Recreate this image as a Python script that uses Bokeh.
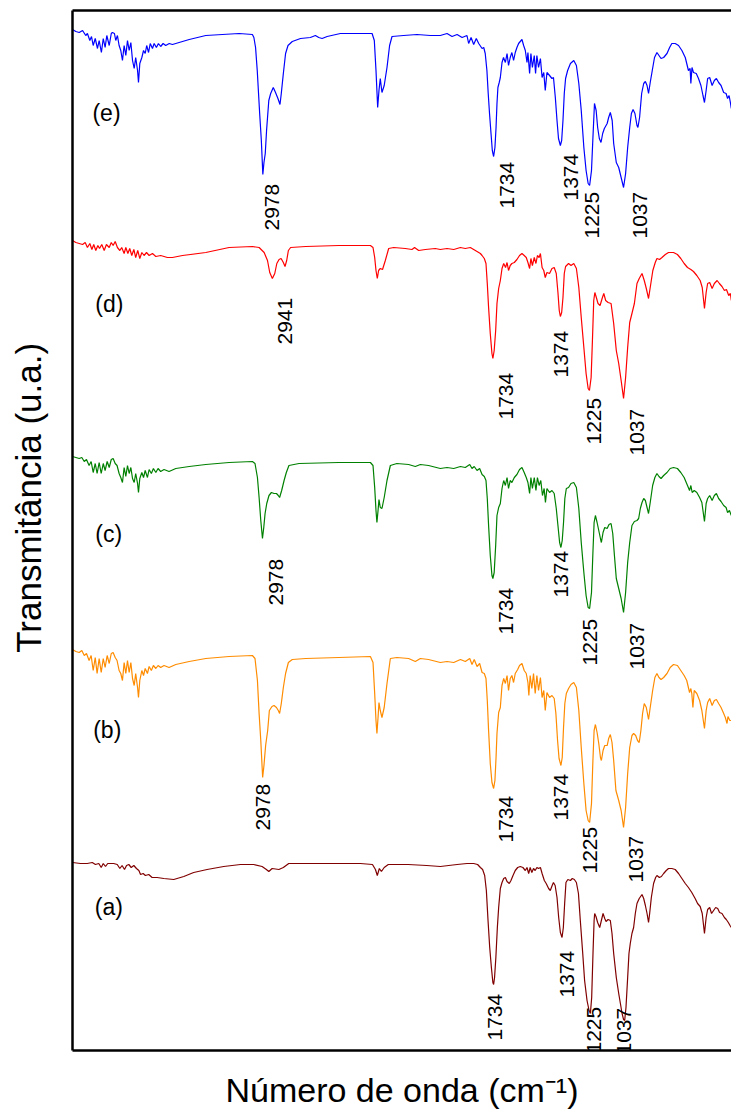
import math
from bokeh.plotting import figure
from bokeh.layouts import row
from bokeh.models import Range1d, LinearAxis, FixedTicker, ColumnDataSource
from bokeh.core.properties import value
from bokeh.embed import file_html
from bokeh.resources import INLINE

# ---------------- data (wavenumber in cm-1, transmittance in arbitrary stacked units) -------------
wn_e = [4000,3982,3964,3946,3929,3920,3907,3898,3889,3878,3866,3857,3845,3835,3825,3816,3803,3792,3786,3775,
        3768,3759,3750,3741,3732,3723,3714,3705,3696,3687,3678,3669,3661,3651,3646,3639,3628,3619,3610,3602,
        3592,3583,3571,3562,3550,3539,3527,3514,3500,3481,3464,3428,3374,3285,3196,3106,3035,
        3027,3018,3009,2996,2987,2979,2973,2966,2959,2947,2937,2923,2911,2898,2887,2880,2869,2857,2844,2821,
        2777,2724,2697,2679,2661,2634,2563,2438,2393,2381,2372,2363,2356,2349,2340,2328,2313,2299,2286,2224,
        2152,2081,
        2027,1991,1964,1937,1910,1884,1875,1862,1848,1834,1821,1803,1794,1786,1777,1770,1763,1755,1748,1741,
        1734,1728,1723,1718,1711,1705,1696,1688,1678,1669,1661,1652,1643,1634,1625,1616,1607,1598,1589,1580,
        1571,1562,1557,1548,1541,1533,1523,1516,1509,1500,1490,1481,1472,1464,1455,1441,1428,1420,1410,1401,
        1393,1383,1376,1369,1362,1355,1344,1329,1311,1297,1284,1271,1257,1245,1234,1226,1216,1209,1200,1191,
        1183,1174,1165,1156,1147,1132,1124,1115,1105,1097,1083,1070,1057,1044,1033,1022,1011,1002,993,983,
        972,967,958,947,936,927,918,910,901,890,878,865,854,843,829,811,797,785,767,749,
        731,713,696,687,683,677,669,654,642,629,618,610,601,593,582,569,557,546,534,521,
        507,494,486,478,471,466]
t_e = [1021,1019,1018,1020,1015,1017,1010,1014,1005,1012,1002,1010,998,1012,1003,1015,1005,1017,1018,1017,
       1010,1015,1005,1000,990,1005,995,1010,1000,1008,990,982,993,980,968,987,993,1000,997,1005,
       998,1007,1002,1007,1003,1007,1004,1007,1005,1007,1006,1008,1011,1015,1016,1017,1016,
       1013,1003,980,937,910,876,888,897,920,950,957,963,958,952,946,957,977,997,1005,1009,
       1012,1013,1015,1013,1012,1014,1017,1017,1017,1010,980,943,960,972,958,965,983,1005,1014,1015,
       1016,1015,
       1015,1017,1014,1016,1013,1015,1007,1013,1006,1012,1007,1002,1003,997,980,957,937,917,900,894,
       903,923,947,963,968,973,988,993,988,997,985,993,998,990,998,1003,1007,1009,1011,1005,
       1000,988,998,977,997,983,995,977,995,983,992,973,978,960,978,975,972,973,953,930,
       912,905,910,930,957,972,980,987,990,985,967,940,903,880,867,865,880,910,947,940,
       923,912,908,917,922,927,933,938,930,907,888,883,873,863,877,903,923,937,941,937,
       925,923,933,957,967,969,965,957,968,980,993,998,995,992,993,997,1003,1007,1007,1005,
       1000,993,980,982,967,983,978,977,972,965,955,948,960,972,973,965,970,972,968,965,
       958,957,952,955,948,942]

wn_d = [4000,3982,3964,3946,3932,3920,3907,3896,3886,3875,3864,3855,3843,3830,3818,3803,3792,3782,3771,3759,
        3746,3736,3723,3714,3703,3693,3682,3671,3661,3650,3639,3628,3616,3603,3589,3571,3553,3527,3491,3464,
        3410,3285,3160,3035,2999,2972,2954,2942,2928,2915,2904,2892,2881,2869,2860,2851,2842,2830,2749,2571,
        2402,2388,2379,2372,2365,2358,2349,2337,2322,2304,2277,2215,2179,2165,2143,2107,2054,
        2027,1991,1955,1919,1893,1866,1848,1830,1812,1803,1791,1782,1775,1768,1759,1750,1745,1738,1730,1723,
        1714,1705,1696,1687,1677,1669,1661,1652,1643,1630,1616,1602,1589,1577,1566,1557,1548,1541,1533,1523,
        1514,1506,1497,1490,1481,1472,1464,1455,1441,1428,1416,1405,1396,1389,1383,1376,1369,1362,1355,1339,
        1326,1311,1297,1284,1271,1257,1245,1234,1227,1218,1211,1204,1198,1190,1181,1170,1159,1150,1140,1127,
        1111,1097,1083,1070,1057,1044,1033,1022,1011,999,986,972,960,945,933,922,910,901,887,874,
        865,851,838,820,803,776,755,737,719,701,683,669,651,633,622,610,601,593,582,569,
        557,542,530,516,503,492,480,471,466]
t_d = [810,808,807,806,808,803,807,801,806,800,805,802,806,800,806,803,808,805,809,803,
       800,803,797,803,797,802,795,801,793,800,792,798,795,798,795,797,794,795,793,793,
       795,798,803,804,803,798,790,778,772,777,787,791,792,788,784,790,800,803,804,805,
       805,803,793,780,772,780,782,781,790,802,803,802,801,803,800,801,802,
       801,802,801,803,802,803,801,799,797,795,792,787,767,743,717,697,692,700,720,747,
       762,770,782,787,783,788,780,785,787,788,791,795,797,795,793,788,782,792,785,793,
       787,795,793,797,783,780,773,778,777,782,783,777,758,740,734,738,753,777,784,787,
       785,787,782,763,733,703,677,662,660,673,710,750,758,753,747,745,752,757,750,748,
       747,727,700,687,670,652,673,703,728,737,747,767,772,777,770,762,752,763,780,788,
       792,791,793,796,798,798,796,792,787,783,781,779,775,770,763,742,758,767,768,762,
       767,770,767,764,760,761,755,757,750]

wn_c = [4000,3982,3964,3950,3937,3925,3911,3900,3889,3878,3868,3857,3846,3835,3825,3814,3803,3792,3782,3771,
        3761,3750,3741,3732,3723,3714,3705,3696,3687,3678,3669,3661,3651,3646,3639,3628,3619,3610,3598,3589,
        3577,3566,3553,3541,3527,3509,3482,3446,3374,3285,3160,3035,3021,3008,2999,2990,2981,2974,2967,2958,
        2946,2933,2919,2906,2896,2889,2878,2865,2853,2839,2785,2571,2402,2388,2379,2372,2367,2361,2356,2349,
        2340,2328,2313,2295,2260,2197,2161,2134,2090,
        2027,1991,1955,1919,1893,1869,1857,1845,1830,1816,1803,1791,1782,1775,1768,1759,1750,1745,1738,1730,
        1723,1714,1705,1696,1687,1678,1669,1661,1652,1643,1630,1616,1602,1589,1577,1566,1557,1548,1541,1533,
        1523,1514,1506,1497,1488,1479,1470,1463,1455,1441,1428,1416,1405,1396,1387,1380,1373,1366,1359,1351,
        1339,1326,1311,1297,1284,1271,1257,1245,1234,1226,1216,1209,1202,1195,1186,1177,1168,1163,1154,1145,
        1132,1122,1111,1102,1093,1083,1070,1057,1044,1033,1022,1011,999,986,972,963,954,945,936,927,
        918,910,901,888,876,865,854,843,829,811,794,776,755,737,719,701,690,683,676,665,
        651,636,624,610,601,593,582,569,557,546,534,521,507,494,486,476,466]
t_c = [594,593,592,593,589,591,585,589,578,587,577,588,577,587,580,589,583,591,592,587,
       585,577,573,568,583,574,585,577,583,572,568,577,567,558,572,578,573,580,573,581,
       577,582,578,582,579,581,579,582,584,586,588,589,587,573,553,530,512,523,537,547,
       555,558,557,557,555,553,560,570,578,585,587,588,588,585,563,540,528,540,551,543,
       542,553,570,585,587,586,584,586,585,
       582,583,582,584,583,586,582,584,580,582,576,574,570,552,525,495,475,472,478,505,
       535,543,547,562,570,565,573,562,570,568,573,576,581,583,578,573,568,557,573,562,
       573,560,573,565,570,555,562,548,562,558,560,557,542,525,508,503,510,528,552,562,
       563,567,568,563,542,508,478,455,443,442,458,495,528,535,528,520,512,508,518,523,
       522,526,527,517,495,472,462,452,438,458,488,508,525,529,530,532,542,548,552,550,
       543,537,548,565,573,577,574,572,575,578,582,583,582,578,573,565,560,565,558,560,
       558,553,548,529,547,552,555,550,555,557,552,549,545,543,538,540,535]

wn_b = [4000,3982,3964,3950,3937,3925,3911,3900,3889,3878,3868,3857,3846,3835,3825,3814,3803,3792,3782,3771,
        3761,3750,3741,3732,3723,3714,3705,3696,3687,3678,3669,3661,3651,3646,3639,3628,3619,3610,3598,3589,
        3577,3566,3553,3541,3527,3509,3482,3446,3374,3285,3160,3035,3021,3008,2999,2990,2980,2973,2964,2953,
        2944,2930,2919,2906,2896,2889,2880,2869,2857,2842,2821,2749,2571,2402,2388,2379,2372,2367,2361,2356,
        2349,2340,2328,2313,2295,2260,2197,2161,2134,2090,
        2027,1991,1955,1919,1893,1869,1857,1845,1830,1816,1803,1791,1782,1775,1768,1759,1750,1741,1734,1728,
        1723,1714,1705,1696,1687,1678,1669,1661,1652,1643,1634,1625,1612,1602,1589,1577,1566,1557,1552,1545,
        1536,1527,1518,1509,1500,1490,1481,1472,1464,1455,1441,1428,1416,1407,1398,1390,1380,1373,1366,1359,
        1351,1339,1326,1311,1297,1284,1271,1257,1245,1234,1226,1216,1209,1202,1195,1186,1177,1168,1163,1154,
        1145,1132,1124,1115,1106,1097,1085,1070,1057,1044,1033,1022,1011,999,990,979,969,960,951,942,
        933,922,910,901,888,876,865,854,843,829,811,794,776,755,737,719,705,690,683,678,
        672,665,651,636,624,610,601,593,582,569,557,546,534,521,507,498,489,484,474,466]
t_b = [401,399,398,400,395,397,390,395,380,393,377,392,378,392,383,395,387,397,398,393,
       390,380,377,370,388,377,390,378,388,372,365,377,363,353,370,380,375,382,377,384,
       380,385,382,385,383,385,383,386,389,392,394,395,392,370,337,310,273,285,305,320,
       340,344,345,343,340,337,347,363,377,388,391,392,393,394,388,357,330,317,333,348,
       340,333,343,367,392,393,392,389,392,391,
       388,389,388,391,389,392,386,391,384,387,378,377,372,350,320,287,268,262,270,293,
       317,338,343,365,372,367,375,360,372,375,368,377,381,385,387,380,377,368,355,375,
       362,377,357,375,360,373,353,360,340,358,353,355,352,337,310,292,285,293,323,347,
       357,362,366,368,363,340,303,267,240,230,228,247,287,320,326,318,307,293,290,300,
       305,305,312,316,308,290,260,250,240,223,243,277,303,315,317,315,310,308,320,337,
       347,343,331,343,360,373,377,373,371,373,377,383,386,385,380,375,370,358,362,357,
       343,360,357,350,340,322,340,348,352,345,350,351,347,343,337,333,327,334,330,330]

wn_a = [4000,3957,3921,3894,3877,3859,3846,3835,3823,3811,3796,3779,3760,3746,3734,3721,3710,3698,3685,3671,
        3657,3644,3635,3621,3609,3591,3573,3546,3510,3457,3403,3350,3278,3189,3099,3028,2983,2960,2947,2929,
        2893,2869,2840,2724,2456,2391,2375,2365,2354,2343,2328,2306,2200,2100,2027,1937,1884,1848,1827,1812,
        1800,1789,1780,1771,1762,1753,1745,1741,1736,1729,1721,1714,1705,1696,1687,1678,1669,1657,1648,1637,
        1625,1612,1598,1584,1571,1562,1553,1545,1536,1527,1518,1509,1500,1490,1481,1469,1459,1446,1437,1427,
        1420,1411,1401,1392,1383,1374,1367,1360,1353,1343,1329,1319,1308,1297,1286,1276,1263,1253,1240,1229,
        1222,1215,1208,1202,1199,1192,1183,1172,1163,1154,1145,1138,1127,1115,1106,1097,1083,1070,1061,1052,
        1044,1038,1031,1022,1015,1008,999,990,981,972,960,945,936,927,918,910,904,895,883,872,
        865,852,841,829,815,803,785,767,749,731,713,696,678,660,647,633,622,610,601,593,
        582,572,561,550,539,529,516,503,493,482,473,466]
t_a = [188,187,187,188,186,187,183,187,184,187,187,187,186,182,185,181,185,186,183,185,
       182,180,176,177,175,176,173,173,172,171,174,178,181,184,186,186,184,181,179,182,
       181,183,187,187,187,186,181,175,182,179,183,186,186,185,184,186,187,187,186,183,
       181,175,160,130,103,83,68,66,73,93,123,143,162,168,172,173,169,167,170,175,
       180,183,184,183,180,183,177,183,178,182,180,183,182,183,177,170,167,162,160,165,
       168,165,153,133,118,113,123,147,168,171,170,172,171,168,157,130,97,70,50,40,
       37,53,97,130,137,134,128,123,130,137,132,129,131,130,117,97,73,57,47,37,
       31,30,43,73,97,107,117,123,137,147,152,156,152,145,137,128,137,153,167,173,
       175,173,174,177,180,182,182,181,177,172,167,163,158,152,147,144,137,117,133,141,
       143,137,140,143,142,138,137,133,131,128,125,123]

# series tags (a)-(e)
tag_text = ["(a)", "(b)", "(c)", "(d)", "(e)"]
tag_wn = [3880, 3889, 3878, 3878, 3893]
tag_t = [144, 321, 517, 747, 938]

# peak annotations (rotated), anchored at the start of the text
peak_text = ["2978", "1734", "1374", "1225", "1037",
             "2941", "1734", "1374", "1225", "1037",
             "2978", "1734", "1374", "1225", "1037",
             "2978", "1734", "1374", "1225", "1037",
             "1734", "1374", "1225", "1037"]
peak_wn = [2931, 1667, 1324, 1214, 954,
           2859, 1673, 1378, 1203, 973,
           2907, 1672, 1378, 1222, 974,
           2980, 1672, 1378, 1222, 976,
           1732, 1348, 1201, 1040]
peak_t = [820, 842, 850, 812, 812,
          706, 631, 673, 606, 595,
          445, 416, 453, 385, 381,
          220, 208, 230, 177, 168,
          10, 53, -3, -4]

x_title = "Número de onda (cm\u207b\u00b9)"
y_title = "Transmitância (u.a.)"

series = [
    (wn_a, t_a, "#800000"),
    (wn_b, t_b, "#FF8C00"),
    (wn_c, t_c, "#008000"),
    (wn_d, t_d, "#FF0000"),
    (wn_e, t_e, "#0000FF"),
]

FONT = "Liberation Sans"

# ---- narrow side panel carrying the y-axis title ----
side = figure(width=69, height=1114, x_range=Range1d(0, 69), y_range=Range1d(0, 1114),
              output_backend="svg", toolbar_location=None, x_axis_type=None, y_axis_type=None,
              min_border=0)
side.outline_line_color = None
side.xgrid.visible = False
side.ygrid.visible = False
side.text(x=[28], y=[592], text=[y_title], angle=math.pi / 2, text_align="center",
          text_baseline="middle", text_font=value(FONT), text_font_size="35px", text_color="black")

# ---- main spectra plot ----
p = figure(width=662, height=1114, x_range=Range1d(4000, 465), y_range=Range1d(0, 1040),
           output_backend="svg", toolbar_location=None,
           min_border_left=3, min_border_right=0, min_border_top=10, min_border_bottom=64)
p.outline_line_color = None
p.xgrid.visible = False
p.ygrid.visible = False
p.background_fill_color = "white"
p.border_fill_color = "white"

for ax in (p.xaxis[0], p.yaxis[0]):
    ax.ticker = FixedTicker(ticks=[])
    ax.axis_line_width = 2.5
    ax.axis_line_color = "black"
    ax.major_tick_line_color = None
    ax.minor_tick_line_color = None
    ax.major_label_text_font_size = "0px"

p.xaxis.axis_label = x_title
p.xaxis.axis_label_standoff = 20
p.xaxis.axis_label_text_font = FONT
p.xaxis.axis_label_text_font_size = "34px"
p.xaxis.axis_label_text_font_style = "normal"
p.xaxis.axis_label_text_color = "black"

top = LinearAxis(ticker=FixedTicker(ticks=[]), axis_line_width=2.5, axis_line_color="black",
                 major_tick_line_color=None, minor_tick_line_color=None,
                 major_label_text_font_size="0px")
p.add_layout(top, "above")

for wn, t, col in series:
    p.line(wn, t, line_color=col, line_width=1.2)

tag_src = ColumnDataSource(dict(x=tag_wn, y=tag_t, text=tag_text))
p.text(x="x", y="y", text="text", source=tag_src, text_font=value(FONT), text_font_size="23px",
       text_align="left", text_baseline="middle", text_color="black")

pk_src = ColumnDataSource(dict(x=peak_wn, y=peak_t, text=peak_text))
p.text(x="x", y="y", text="text", source=pk_src, angle=math.pi / 2, text_font=value(FONT),
       text_font_size="21px", text_align="left", text_baseline="middle", text_color="black")

layout = row(side, p, spacing=0)
open("out.html", "w").write(file_html(layout, INLINE))
